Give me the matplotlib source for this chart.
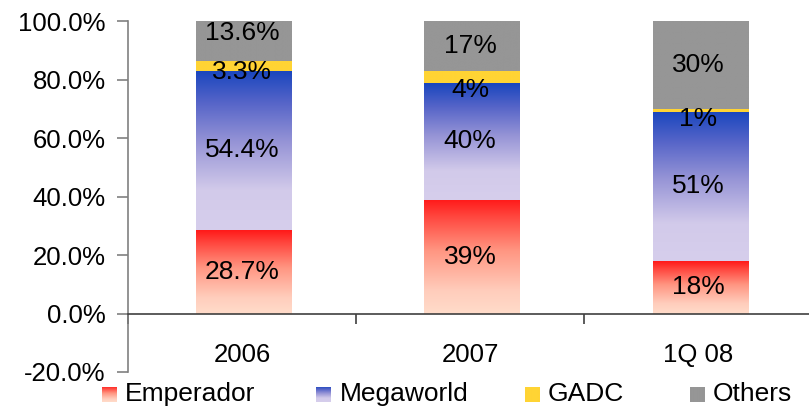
import numpy as np
import matplotlib
matplotlib.use("Agg")
import matplotlib.pyplot as plt
from matplotlib.colors import LinearSegmentedColormap
from matplotlib.ticker import FixedLocator, FuncFormatter
from matplotlib.transforms import offset_copy

plt.rcParams['font.family'] = ['Liberation Sans', 'DejaVu Sans']

categories = ["2006", "2007", "1Q 08"]
series = ["Emperador", "Megaworld", "GADC", "Others"]
emperador = [28.7, 39, 18]
megaworld = [54.4, 40, 51]
gadc = [3.3, 4, 1]
others = [13.6, 17, 30]
labels = [["28.7%", "39%", "18%"],
          ["54.4%", "40%", "51%"],
          ["3.3%", "4%", "1%"],
          ["13.6%", "17%", "30%"]]
yticks = [-20, 0, 20, 40, 60, 80, 100]

values = [emperador, megaworld, gadc, others]

# label nudges in points (layout only): positive = up
label_nudge = [[0, 0, 0],
               [0, 0, 0],
               [-4.5, -9.5, -6.5],
               [6, 0, 0]]

def c(r, g, b):
    return (r / 255, g / 255, b / 255)

cmaps = [
    LinearSegmentedColormap.from_list("emp", [(0.0, c(255, 220, 202)), (0.2, c(255, 205, 188)),
                                               (0.55, c(255, 150, 130)), (0.85, c(255, 70, 62)),
                                               (1.0, c(255, 25, 25))]),
    LinearSegmentedColormap.from_list("meg", [(0.0, c(214, 206, 236)), (0.25, c(210, 202, 234)),
                                               (0.55, c(150, 148, 214)), (0.8, c(85, 100, 200)),
                                               (1.0, c(25, 70, 190))]),
    LinearSegmentedColormap.from_list("gadc", [c(255, 212, 52), c(255, 212, 52)]),
    LinearSegmentedColormap.from_list("oth", [c(150, 150, 150), c(150, 150, 150)]),
]

fig = plt.figure(figsize=(8.09, 4.07), dpi=100)
ax = fig.add_axes([0.158, 0.086, 0.846, 0.862])

grad = np.linspace(0, 1, 256).reshape(-1, 1)
width = 0.42
x = np.arange(len(categories))
bottoms = np.zeros(len(categories))
for si, vals in enumerate(values):
    for i, v in enumerate(vals):
        b = bottoms[i]
        ax.imshow(grad, extent=[x[i] - width / 2 + 0.01, x[i] + width / 2 + 0.01, b, b + v],
                  origin='lower', aspect='auto', cmap=cmaps[si], zorder=2,
                  interpolation='bilinear')
        tr = offset_copy(ax.transData, fig=fig, x=0, y=label_nudge[si][i], units='points')
        ax.text(x[i], b + v / 2, labels[si][i], ha='center', va='center',
                fontsize=19, color='black', zorder=4, transform=tr)
    bottoms = bottoms + np.array(vals)

ax.set_xlim(-0.5, 2.5)
ax.set_ylim(-20, 100)
ax.set_aspect('auto')

for s in ['top', 'right']:
    ax.spines[s].set_visible(False)
ax.spines['bottom'].set_position(('data', 0))
ax.spines['bottom'].set_color('#404040')
ax.spines['bottom'].set_linewidth(1.2)
ax.spines['left'].set_color('#808080')
ax.spines['left'].set_linewidth(1.2)

ax.yaxis.set_major_locator(FixedLocator(yticks))
ax.yaxis.set_major_formatter(FuncFormatter(lambda v, p: f"{v:.1f}%"))
ax.tick_params(axis='y', length=8, width=1.2, color='#808080', pad=8, labelsize=18.5)

ax.set_xticks(x)
ax.set_xticklabels(categories)
ax.set_xticks([-0.5, 0.5, 1.5], minor=True)
ax.tick_params(axis='x', which='major', length=0, pad=21, labelsize=18.5)
ax.tick_params(axis='x', which='minor', length=7, width=1.2, color='#404040')

# legend
leg_x = [0.126, 0.391, 0.649, 0.853]
for si, name in enumerate(series):
    lax = fig.add_axes([leg_x[si], 0.012, 0.0185, 0.037])
    lax.imshow(grad, origin='lower', aspect='auto', cmap=cmaps[si], extent=[0, 1, 0, 1])
    lax.axis('off')
    fig.text(leg_x[si] + 0.0285, 0.033, name, ha='left', va='center', fontsize=19)

fig.savefig("out.png", dpi=100)
